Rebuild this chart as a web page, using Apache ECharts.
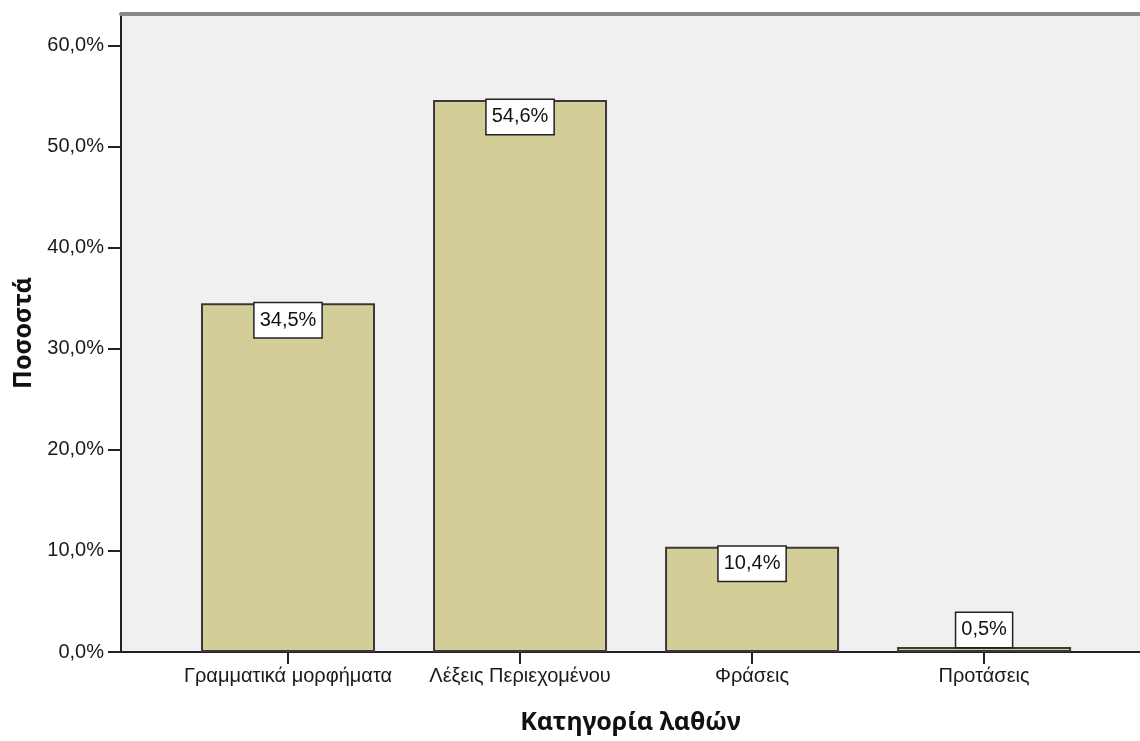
<!DOCTYPE html>
<html>
<head>
<meta charset="utf-8">
<script src="https://cdn.jsdelivr.net/npm/echarts@6/dist/echarts.min.js"></script>
<style>html,body{margin:0;padding:0;background:#fff}#c{width:1140px;height:741px}</style>
</head>
<body>
<div id="c"></div>
<script>
const categories = ['Γραμματικά μορφήματα', 'Λέξεις Περιεχομένου', 'Φράσεις', 'Προτάσεις'];
const values = [34.5, 54.6, 10.4, 0.5];
const yTicks = [0, 10, 20, 30, 40, 50, 60];
const xTitle = 'Κατηγορία λαθών';
const yTitle = 'Ποσοστά';

const fmt = v => v.toFixed(1).replace('.', ',') + '%';
const FONT = '"Liberation Sans", Arial, sans-serif';
const TFONT = '"Noto Sans", "Liberation Sans", sans-serif';

const chart = echarts.init(document.getElementById('c'), null, {renderer: 'canvas'});
const catIdx = categories.map((c, i) => i);

chart.setOption({
  animation: false,
  backgroundColor: '#ffffff',
  grid: {left: 121, top: 14, right: 0, bottom: 89, show: true, backgroundColor: '#f0f0f0', borderWidth: 0},
  xAxis: [{
    type: 'value', min: -0.7198, max: 3.672,
    splitLine: {show: false},
    axisLine: {show: true, onZero: false, lineStyle: {color: '#222', width: 2}},
    axisTick: {show: true, length: 12, customValues: catIdx, lineStyle: {color: '#222', width: 2}},
    axisLabel: {show: true, customValues: catIdx, margin: 14, fontFamily: FONT, fontSize: 20, color: '#1a1a1a',
      formatter: v => categories[Math.round(v)] || ''},
    name: xTitle, nameLocation: 'middle', nameGap: 58,
    nameTextStyle: {fontFamily: TFONT, fontSize: 25, fontWeight: 'bold', color: '#111'}
  }, {
    type: 'value', position: 'top', min: -0.7198, max: 3.672,
    splitLine: {show: false}, axisTick: {show: false}, axisLabel: {show: false},
    axisLine: {show: true, onZero: false, lineStyle: {color: '#888', width: 4}}
  }],
  yAxis: {
    type: 'value', min: 0, max: 63.1, interval: 10,
    splitLine: {show: false},
    axisLine: {show: true, onZero: false, lineStyle: {color: '#222', width: 2}},
    axisTick: {show: true, length: 13, customValues: yTicks, lineStyle: {color: '#222', width: 2}},
    axisLabel: {customValues: yTicks, margin: 17, fontFamily: FONT, fontSize: 20, color: '#1a1a1a', formatter: v => fmt(v)},
    name: yTitle, nameLocation: 'middle', nameGap: 84, nameRotate: 90,
    nameTextStyle: {fontFamily: TFONT, fontSize: 25, fontWeight: 'bold', color: '#111'}
  },
  series: [{
    type: 'bar',
    barWidth: 174,
    data: values.map((v, i) => ({
      value: [i, v],
      label: {position: v < 5 ? 'top' : 'insideTop'}
    })),
    itemStyle: {color: '#d3ce97', borderColor: '#3a3a3a', borderWidth: 2},
    label: {
      show: true, distance: 0,
      formatter: p => fmt(p.value[1]),
      fontFamily: FONT, fontSize: 20, color: '#111',
      backgroundColor: '#ffffff', borderColor: '#222', borderWidth: 1.5,
      padding: [6, 5, 6, 5], lineHeight: 22
    }
  }]
});
</script>
</body>
</html>
